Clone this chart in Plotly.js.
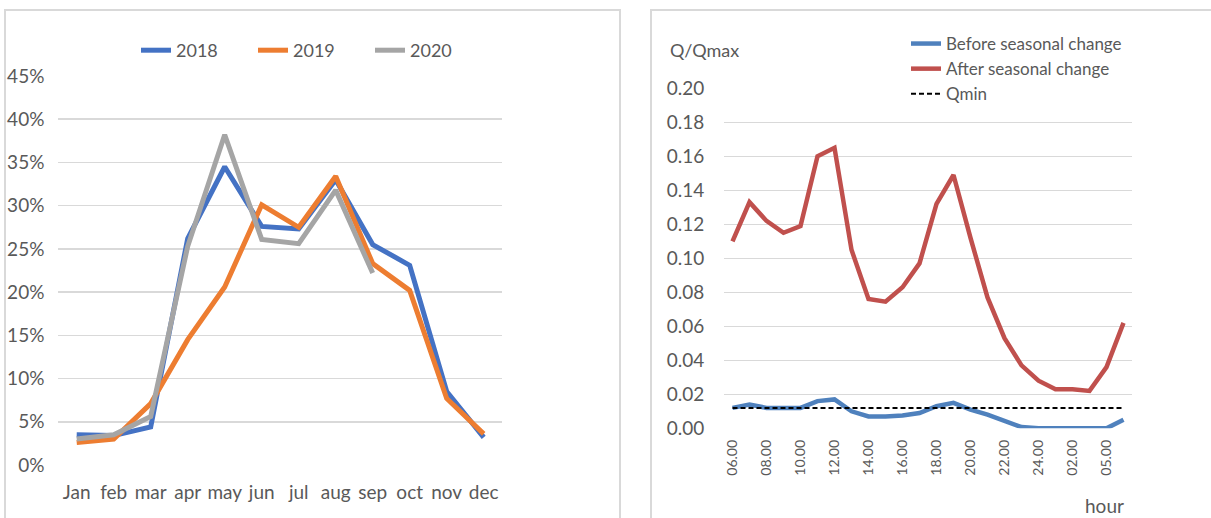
<!DOCTYPE html>
<html>
<head>
<meta charset="utf-8">
<script src="https://cdn.plot.ly/plotly-3.0.1.min.js"></script>
<style>html,body{margin:0;padding:0;background:#fff;}#chart{width:1211px;height:518px;}</style>
</head>
<body>
<div id="chart"></div>
<script>
// ---- Left chart data (share, %) ----
const months = ["Jan","feb","mar","apr","may","jun","jul","aug","sep","oct","nov","dec"];
const share2018 = [3.5, 3.4, 4.4, 26.2, 34.5, 27.6, 27.3, 33.0, 25.5, 23.1, 8.5, 3.2];
const share2019 = [2.6, 3.0, 7.1, 14.5, 20.6, 30.1, 27.5, 33.4, 23.3, 20.2, 7.7, 3.6];
const share2020 = [3.0, 3.5, 5.6, 25.3, 38.2, 26.1, 25.6, 31.8, 22.2];
const pctTicks = [0, 5, 10, 15, 20, 25, 30, 35, 40, 45];

// ---- Right chart data (Q/Qmax by hour) ----
const hours = ["06.00","07.00","08.00","09.00","10.00","11.00","12.00","13.00","14.00","15.00",
               "16.00","17.00","18.00","19.00","20.00","21.00","22.00","23.00","24.00","01.00",
               "02.00","04.00","05.00","06.00"];
const beforeChange = [0.012, 0.014, 0.012, 0.012, 0.012, 0.016, 0.017, 0.010, 0.007, 0.007,
                      0.0075, 0.009, 0.013, 0.015, 0.011, 0.008, 0.0045, 0.0007, 0, 0,
                      0, 0, 0, 0.005];
const afterChange = [0.110, 0.133, 0.122, 0.115, 0.119, 0.160, 0.165, 0.105, 0.076, 0.0745,
                     0.083, 0.097, 0.132, 0.149, 0.112, 0.077, 0.053, 0.037, 0.028, 0.023,
                     0.023, 0.022, 0.036, 0.062];
const qmin = 0.012;
const qTicks = [0, 0.02, 0.04, 0.06, 0.08, 0.10, 0.12, 0.14, 0.16, 0.18, 0.20];

const FONT = "Lato, 'Open Sans', sans-serif";
const TXT = "#595959";
const GRID = "#d9d9d9";
const W = 1211, H = 518;
const px = v => v / W, py = v => 1 - v / H;

const idx = hours.map((_, i) => i);
const evenIdx = idx.filter(i => i % 2 === 0);

const traces = [
  {x: months, y: share2018, name: "2018", type: "scatter", mode: "lines",
   line: {color: "#4472C4", width: 5}, xaxis: "x", yaxis: "y", legend: "legend"},
  {x: months, y: share2019, name: "2019", type: "scatter", mode: "lines",
   line: {color: "#ED7D31", width: 5}, xaxis: "x", yaxis: "y", legend: "legend"},
  {x: months.slice(0, share2020.length), y: share2020, name: "2020", type: "scatter", mode: "lines",
   line: {color: "#A5A5A5", width: 5}, xaxis: "x", yaxis: "y", legend: "legend"},
  {x: idx, y: beforeChange, name: "Before seasonal change", type: "scatter", mode: "lines",
   line: {color: "#4F81BD", width: 4.5}, xaxis: "x2", yaxis: "y2", legend: "legend2"},
  {x: idx, y: afterChange, name: "After seasonal change", type: "scatter", mode: "lines",
   line: {color: "#C0504D", width: 4.5}, xaxis: "x2", yaxis: "y2", legend: "legend2"},
  {x: idx, y: idx.map(() => qmin), name: "Qmin", type: "scatter", mode: "lines",
   line: {color: "#000000", width: 2, dash: "5px,3px"}, xaxis: "x2", yaxis: "y2", legend: "legend2"}
];

const layout = {
  width: W, height: H,
  margin: {l: 0, r: 0, t: 0, b: 0},
  paper_bgcolor: "#fff", plot_bgcolor: "#fff",
  font: {family: FONT, color: TXT, size: 18},
  showlegend: true,
  xaxis: {
    domain: [px(58.2), px(502.2)], anchor: "y", type: "category",
    range: [-0.5, 11.5], showgrid: false, zeroline: false, showline: false,
    ticks: "outside", ticklen: 10, tickcolor: "rgba(0,0,0,0)",
    tickfont: {family: FONT, size: 19, color: TXT}, fixedrange: true
  },
  yaxis: {
    domain: [py(465), py(76)], anchor: "x", range: [0, 45],
    tickvals: pctTicks, ticktext: pctTicks.map(v => v + "%"),
    showgrid: true, gridcolor: GRID, gridwidth: 1.5, zeroline: false, showline: false,
    ticks: "outside", ticklen: 9, tickcolor: "rgba(0,0,0,0)",
    tickfont: {family: FONT, size: 19, color: TXT}, fixedrange: true
  },
  xaxis2: {
    domain: [px(724), px(1132)], anchor: "y2",
    range: [-0.5, 23.5], showgrid: false, zeroline: false, showline: false,
    tickvals: evenIdx, ticktext: evenIdx.map(i => hours[i]), tickangle: -90,
    ticks: "outside", ticklen: 5, tickcolor: "rgba(0,0,0,0)",
    tickfont: {family: FONT, size: 14, color: TXT}, fixedrange: true
  },
  yaxis2: {
    domain: [py(428.3), py(88.3)], anchor: "x2", range: [0, 0.20],
    tickvals: qTicks, ticktext: qTicks.map(v => v.toFixed(2)),
    showgrid: true, gridcolor: GRID, gridwidth: 1.5, zeroline: false, showline: false,
    ticks: "outside", ticklen: 15, tickcolor: "rgba(0,0,0,0)",
    tickfont: {family: FONT, size: 19, color: TXT}, fixedrange: true
  },
  legend: {
    orientation: "h", x: px(136), y: py(32), xanchor: "left", yanchor: "top",
    entrywidth: 72, entrywidthmode: "pixels", bgcolor: "rgba(0,0,0,0)",
    font: {family: FONT, size: 18, color: TXT}, itemclick: false, itemdoubleclick: false
  },
  legend2: {
    orientation: "v", x: px(906), y: py(26), xanchor: "left", yanchor: "top",
    bgcolor: "rgba(0,0,0,0)", tracegroupgap: 0,
    font: {family: FONT, size: 17, color: TXT}, itemclick: false, itemdoubleclick: false
  },
  shapes: [
    {type: "rect", xref: "paper", yref: "paper", x0: px(5), x1: px(620), y0: py(540), y1: py(10),
     line: {color: GRID, width: 2}, fillcolor: "rgba(0,0,0,0)", layer: "below"},
    {type: "rect", xref: "paper", yref: "paper", x0: px(651), x1: px(1230), y0: py(540), y1: py(10),
     line: {color: GRID, width: 2}, fillcolor: "rgba(0,0,0,0)", layer: "below"}
  ],
  annotations: [
    {text: "Q/Qmax", xref: "paper", yref: "paper", x: px(668), y: py(50), xanchor: "left", yanchor: "middle",
     showarrow: false, font: {family: FONT, size: 18, color: TXT}},
    {text: "hour", xref: "paper", yref: "paper", x: px(1126), y: py(505), xanchor: "right", yanchor: "middle",
     showarrow: false, font: {family: FONT, size: 19, color: TXT}}
  ]
};

Plotly.newPlot("chart", traces, layout, {displayModeBar: false, staticPlot: true});
</script>
</body>
</html>
